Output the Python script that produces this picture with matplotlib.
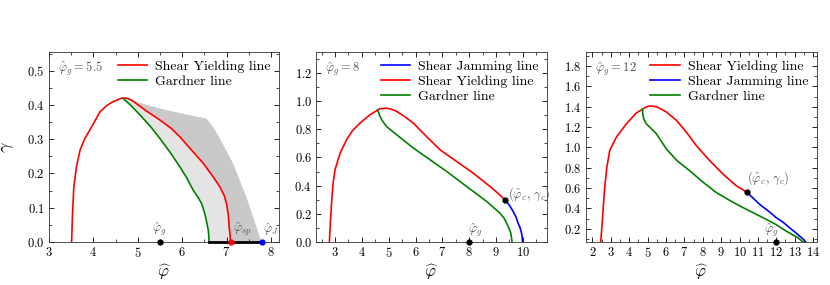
import matplotlib
matplotlib.use("Agg")
import matplotlib.pyplot as plt
from matplotlib.ticker import MultipleLocator
import numpy as np

plt.rcParams['font.family'] = 'serif'
plt.rcParams['font.serif'] = ['cmr10', 'DejaVu Serif']
plt.rcParams['mathtext.fontset'] = 'cm'
plt.rcParams['axes.formatter.use_mathtext'] = True
plt.rcParams['axes.unicode_minus'] = False

# ---- panel 1 : phi_g = 5.5
sy1_x = [3.51, 3.53, 3.56, 3.62, 3.70, 3.80, 3.92, 4.03, 4.15, 4.30, 4.45, 4.64, 4.75, 4.85, 4.97,
         5.2, 5.5, 5.75, 5.95, 6.2, 6.48, 6.7, 6.85, 6.95, 7.0, 7.04, 7.06, 7.08, 7.09]
sy1_y = [0.0, 0.08, 0.16, 0.22, 0.268, 0.30, 0.327, 0.352, 0.38, 0.398, 0.41, 0.42, 0.42, 0.415, 0.404,
         0.382, 0.356, 0.332, 0.307, 0.27, 0.229, 0.19, 0.161, 0.135, 0.112, 0.08, 0.044, 0.02, 0.0]
gl1_x = [4.67, 4.85, 5.05, 5.3, 5.5, 5.75, 5.95, 6.1, 6.25, 6.36, 6.44, 6.51, 6.55, 6.59, 6.61]
gl1_y = [0.419, 0.398, 0.371, 0.335, 0.302, 0.258, 0.219, 0.188, 0.151, 0.13, 0.112, 0.083, 0.06, 0.034, 0.0]
outer1_x = [4.75, 5.2, 5.65, 6.1, 6.55, 6.7, 6.9, 7.15, 7.45, 7.79]
outer1_y = [0.42, 0.40, 0.385, 0.372, 0.36, 0.336, 0.29, 0.229, 0.13, 0.0]
pts1_x = [5.5, 7.11, 7.79]
pts1_labels = [r'$\hat\varphi_g$', r'$\hat\varphi_{sp}$', r'$\hat\varphi_J$']

# ---- panel 2 : phi_g = 8
sy2_x = [2.79, 2.83, 2.88, 2.93, 3.0, 3.19, 3.43, 3.65, 3.93, 4.3, 4.67, 4.92, 5.1, 5.3, 5.6, 5.92,
         6.41, 6.91, 7.53, 8.15, 8.77, 9.05, 9.33]
sy2_y = [0.0, 0.15, 0.30, 0.42, 0.513, 0.631, 0.726, 0.79, 0.844, 0.903, 0.946, 0.95, 0.943, 0.927,
         0.89, 0.844, 0.749, 0.655, 0.572, 0.489, 0.395, 0.35, 0.300]
sj2_x = [9.33, 9.5, 9.64, 9.75, 9.82, 9.9, 9.95, 9.98, 9.99]
sj2_y = [0.300, 0.26, 0.217, 0.175, 0.135, 0.10, 0.064, 0.03, 0.0]
gl2_x = [4.59, 4.66, 4.74, 4.92, 5.3, 5.92, 6.54, 7.16, 7.9, 8.65, 9.14, 9.3, 9.39, 9.48, 9.55, 9.60]
gl2_y = [0.939, 0.90, 0.868, 0.820, 0.761, 0.667, 0.584, 0.501, 0.395, 0.288, 0.206, 0.17, 0.135, 0.10, 0.064, 0.0]
crit2 = (9.33, 0.300)
phig2 = 8.0

# ---- panel 3 : phi_g = 12
sy3_x = [2.45, 2.50, 2.54, 2.60, 2.67, 2.78, 2.94, 3.30, 3.85, 4.39, 4.93, 5.12, 5.48, 6.02, 6.57,
         7.11, 7.65, 8.38, 9.10, 9.83, 10.4]
sy3_y = [0.07, 0.18, 0.276, 0.44, 0.606, 0.80, 0.969, 1.10, 1.233, 1.339, 1.398, 1.408, 1.401, 1.349,
         1.266, 1.150, 1.018, 0.870, 0.738, 0.622, 0.56]
sj3_x = [10.4, 11.09, 11.6, 12.0, 12.4, 12.72, 13.0, 13.27, 13.45, 13.6]
sj3_y = [0.56, 0.441, 0.37, 0.309, 0.26, 0.21, 0.17, 0.127, 0.10, 0.07]
gl3_x = [4.72, 4.74, 4.79, 4.93, 5.48, 6.02, 6.6, 7.29, 8.0, 8.74, 9.5, 10.19, 11.46, 12.0, 12.54, 13.18, 13.45]
gl3_y = [1.38, 1.33, 1.28, 1.233, 1.134, 0.985, 0.87, 0.771, 0.66, 0.556, 0.475, 0.408, 0.292, 0.24, 0.177, 0.111, 0.07]
crit3 = (10.4, 0.56)
phig3 = 12.0

fig = plt.figure(figsize=(8.3, 2.85), dpi=100)
ax1 = fig.add_axes([0.059, 0.151, 0.277, 0.667])
ax2 = fig.add_axes([0.381, 0.151, 0.278, 0.667])
ax3 = fig.add_axes([0.706, 0.151, 0.278, 0.667])

RED, GREEN, BLUE = '#ff0000', '#008000', '#0000ff'
GRAY = '#555555'
lw = 1.2

def style(ax, xmaj, xmin, ymaj, ymin):
    ax.tick_params(which='both', direction='in', top=True, right=True, labelsize=9)
    ax.tick_params(which='major', length=3.5, width=0.6, pad=3)
    ax.tick_params(which='minor', length=2, width=0.5)
    ax.xaxis.set_major_locator(MultipleLocator(xmaj))
    ax.xaxis.set_minor_locator(MultipleLocator(xmin))
    ax.yaxis.set_major_locator(MultipleLocator(ymaj))
    ax.yaxis.set_minor_locator(MultipleLocator(ymin))
    for s in ax.spines.values():
        s.set_linewidth(0.6)
        s.set_color('#333333')
    ax.set_xlabel(r'$\widehat{\varphi}$', fontsize=12, labelpad=2)

def legend(ax):
    ax.legend(loc='upper right', frameon=False, fontsize=10, handlelength=2.1,
              borderaxespad=0.2, labelspacing=0.15, handletextpad=0.6)

# panel 1
i0 = 11  # index of the top of the yielding line
light = list(zip(gl1_x, gl1_y)) + list(zip(sy1_x[:i0 - 1:-1], sy1_y[:i0 - 1:-1]))
lx, ly = zip(*light)
ax1.fill(lx, ly, color='#e4e4e4', lw=0, zorder=1)
dark = list(zip(sy1_x[i0:], sy1_y[i0:])) + list(zip(outer1_x[::-1], outer1_y[::-1]))
dx, dy = zip(*dark)
ax1.fill(dx, dy, color='#c9c9c9', lw=0, zorder=1)
ax1.plot(sy1_x, sy1_y, color=RED, lw=lw, label='Shear Yielding line', zorder=3)
ax1.plot(gl1_x, gl1_y, color=GREEN, lw=lw, label='Gardner line', zorder=3)
ax1.plot([gl1_x[-1], pts1_x[2]], [0, 0], color='black', lw=2, zorder=4, clip_on=False)
for px, c in zip(pts1_x, ['black', RED, BLUE]):
    ax1.plot(px, 0, 'o', color=c, ms=3.5, zorder=5, clip_on=False)
ax1.text(pts1_x[0], 0.012, pts1_labels[0], color=GRAY, fontsize=9, ha='center', va='bottom')
ax1.text(pts1_x[1] + 0.03, 0.012, pts1_labels[1], color=GRAY, fontsize=9, ha='left', va='bottom')
ax1.text(pts1_x[2] + 0.03, 0.012, pts1_labels[2], color=GRAY, fontsize=9, ha='left', va='bottom')
ax1.set_xlim(3, 8.18)
ax1.set_ylim(0, 0.555)
style(ax1, 1, 0.5, 0.1, 0.05)
ax1.set_ylabel(r'$\gamma$', fontsize=13, labelpad=8)
ax1.text(0.04, 0.955, r'$\hat\varphi_g = 5.5$', transform=ax1.transAxes, color=GRAY, fontsize=9, va='top')
legend(ax1)

# panel 2
ax2.plot(sj2_x, sj2_y, color=BLUE, lw=lw, label='Shear Jamming line', zorder=3)
ax2.plot(sy2_x, sy2_y, color=RED, lw=lw, label='Shear Yielding line', zorder=3)
ax2.plot(gl2_x, gl2_y, color=GREEN, lw=lw, label='Gardner line', zorder=3)
ax2.plot(*crit2, 'o', color='black', ms=3.5, zorder=5)
ax2.text(crit2[0] + 0.12, crit2[1] + 0.04, r'$(\hat\varphi_c,\,\gamma_c)$', color=GRAY, fontsize=9, va='center')
ax2.plot(phig2, 0, 'o', color='black', ms=3.5, zorder=5, clip_on=False)
ax2.text(phig2 - 0.05, 0.02, r'$\hat\varphi_g$', color=GRAY, fontsize=9, ha='left', va='bottom')
ax2.set_xlim(2.3, 10.9)
ax2.set_ylim(0, 1.35)
style(ax2, 1, 0.5, 0.2, 0.1)
ax2.text(0.04, 0.955, r'$\hat\varphi_g = 8$', transform=ax2.transAxes, color=GRAY, fontsize=9, va='top')
legend(ax2)

# panel 3
ax3.plot(sy3_x, sy3_y, color=RED, lw=lw, label='Shear Yielding line', zorder=3)
ax3.plot(sj3_x, sj3_y, color=BLUE, lw=lw, label='Shear Jamming line', zorder=3)
ax3.plot(gl3_x, gl3_y, color=GREEN, lw=lw, label='Gardner line', zorder=3)
ax3.plot(*crit3, 'o', color='black', ms=3.5, zorder=5)
ax3.text(crit3[0], crit3[1] + 0.05, r'$(\hat\varphi_c,\,\gamma_c)$', color=GRAY, fontsize=9, va='bottom')
ax3.plot(phig3, 0.07, 'o', color='black', ms=3.5, zorder=5, clip_on=False)
ax3.text(phig3 - 0.25, 0.1, r'$\hat\varphi_g$', color=GRAY, fontsize=9, ha='center', va='bottom')
ax3.set_xlim(1.65, 14.2)
ax3.set_ylim(0.07, 1.94)
style(ax3, 1, 0.5, 0.2, 0.1)
ax3.text(0.04, 0.955, r'$\hat\varphi_g = 12$', transform=ax3.transAxes, color=GRAY, fontsize=9, va='top')
legend(ax3)

fig.savefig('out.png', dpi=100)
